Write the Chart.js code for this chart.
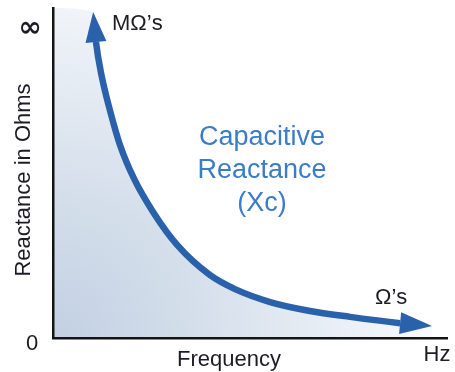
<!DOCTYPE html>
<html>
<head>
<meta charset="utf-8">
<title>Capacitive Reactance</title>
<script src="https://cdn.jsdelivr.net/npm/chart.js@4.4.1/dist/chart.umd.min.js"></script>
<style>
    html, body { margin: 0; padding: 0; background: #ffffff; }
    #wrap { width: 455px; height: 372px; }
</style>
</head>
<body>
<div id="wrap"><canvas id="chart-reactance" width="455" height="372"></canvas></div>
<script>
// Xc against frequency, arbitrary units (0..100 on both axes).
// First and last points are the arrow tips.
const frequency = [10.2, 10.9, 12.4, 14.5, 17.0, 20.6, 25.4, 31.5, 39.8, 46.2, 55.1, 65.2, 75.4, 88.1, 96.2];
const reactance = [98.8, 89.7, 79.1, 68.8, 58.5, 48.2, 38.2, 28.2, 19.1, 14.8, 10.9, 8.2, 6.4, 4.5, 3.6];
const axisMax = 100;

const curveBlue = '#2a61ab';
const textBlue = '#3a7cc8';
const inkColor = '#1c1c24';

const curvePoints = frequency.map((f, i) => ({ x: f, y: reactance[i] }));
const lastIdx = curvePoints.length - 1;

// shaded area runs from the top of the y axis along the curve
const areaPoints = [{ x: 0, y: axisMax }].concat(curvePoints);

function areaGradient(context) {
    const chart = context.chart;
    const area = chart.chartArea;
    if (!area) return 'rgba(0,0,0,0)';
    const g = chart.ctx.createRadialGradient(area.left, area.bottom, 0, area.left, area.bottom, 420);
    g.addColorStop(0, '#c2d0e3');
    g.addColorStop(0.35, '#d5dfeb');
    g.addColorStop(0.7, '#ebf0f6');
    g.addColorStop(1, '#ffffff');
    return g;
}

function drawHead(ctx, base, tip, halfWidth) {
    const dx = tip.x - base.x, dy = tip.y - base.y;
    const len = Math.hypot(dx, dy) || 1;
    const nx = -dy / len, ny = dx / len;
    ctx.beginPath();
    ctx.moveTo(tip.x, tip.y);
    ctx.lineTo(base.x + nx * halfWidth, base.y + ny * halfWidth);
    ctx.lineTo(base.x - nx * halfWidth, base.y - ny * halfWidth);
    ctx.closePath();
    ctx.fill();
}

const arrowHeads = {
    id: 'arrowHeads',
    afterDatasetsDraw(chart) {
        const pts = chart.getDatasetMeta(0).data;
        const ctx = chart.ctx;
        ctx.save();
        ctx.fillStyle = curveBlue;
        drawHead(ctx, pts[1], pts[0], 10.5);
        drawHead(ctx, pts[lastIdx - 1], pts[lastIdx], 11);
        ctx.restore();
    }
};

const labels = {
    id: 'labels',
    afterDraw(chart) {
        const ctx = chart.ctx;
        const { left, right, top, bottom } = chart.chartArea;
        ctx.save();
        ctx.fillStyle = inkColor;
        ctx.textAlign = 'center';
        ctx.textBaseline = 'middle';

        ctx.font = 'bold 28px "DejaVu Sans", sans-serif';
        ctx.fillText('∞', left - 23, top + 21);

        ctx.font = '22px "Liberation Sans", Arial, sans-serif';
        ctx.fillText('0', left - 21, bottom + 6);
        ctx.fillText('Frequency', 229, bottom + 22);
        ctx.fillText('Hz', right - 10, bottom + 17);

        ctx.save();
        ctx.translate(left - 29, 180);
        ctx.rotate(-Math.PI / 2);
        ctx.fillText('Reactance in Ohms', 0, 0);
        ctx.restore();

        ctx.textAlign = 'left';
        ctx.fillText('MΩ\u2019s', 112, 24);
        ctx.fillText('Ω\u2019s', 375, 298);

        ctx.textAlign = 'center';
        ctx.fillStyle = textBlue;
        ctx.font = '27px "Liberation Sans", Arial, sans-serif';
        ctx.fillText('Capacitive', 262, 138);
        ctx.fillText('Reactance', 262, 171);
        ctx.fillText('(Xc)', 262, 204);
        ctx.restore();
    }
};

new Chart(document.getElementById('chart-reactance'), {
    type: 'scatter',
    data: {
        datasets: [
            {
                data: curvePoints,
                showLine: true,
                borderColor: curveBlue,
                borderWidth: 6.5,
                borderCapStyle: 'butt',
                pointRadius: 0,
                cubicInterpolationMode: 'monotone',
                fill: false,
                segment: {
                    // the end pieces sit under the arrow heads
                    borderColor: c => (c.p0DataIndex === 0 || c.p1DataIndex === lastIdx) ? 'rgba(0,0,0,0)' : curveBlue
                },
                order: 0
            },
            {
                data: areaPoints,
                showLine: true,
                borderWidth: 0,
                borderColor: 'rgba(0,0,0,0)',
                pointRadius: 0,
                cubicInterpolationMode: 'monotone',
                fill: 'origin',
                backgroundColor: areaGradient,
                order: 1
            }
        ]
    },
    options: {
        responsive: false,
        animation: false,
        layout: { padding: { left: 53, right: 8, top: 8, bottom: 34 } },
        plugins: {
            legend: { display: false },
            tooltip: { enabled: false }
        },
        scales: {
            x: {
                type: 'linear',
                min: 0,
                max: axisMax,
                grid: { display: false, drawTicks: false },
                ticks: { display: false },
                // axis lines go over the shaded area
                border: { display: true, color: '#141414', width: 2.5, z: 1 }
            },
            y: {
                type: 'linear',
                min: 0,
                max: axisMax,
                grid: { display: false, drawTicks: false },
                ticks: { display: false },
                border: { display: true, color: '#141414', width: 2.5, z: 1 }
            }
        }
    },
    plugins: [arrowHeads, labels]
});
</script>
</body>
</html>
